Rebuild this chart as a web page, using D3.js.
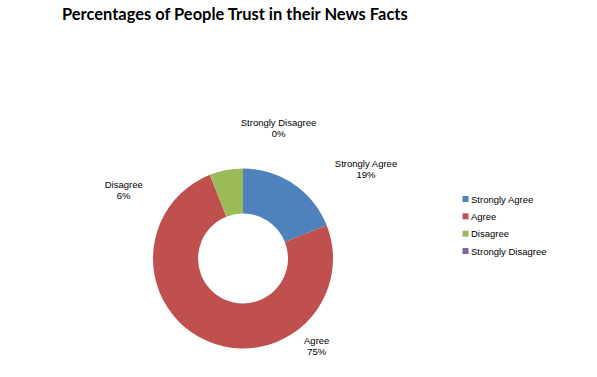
<!DOCTYPE html>
<html><head><meta charset="utf-8">
<script src="https://cdn.jsdelivr.net/npm/d3@7"></script>
<style>body{margin:0;background:#fff}svg{display:block}</style>
</head><body>
<script>
const categories = ["Strongly Agree", "Agree", "Disagree", "Strongly Disagree"];
const values = [19, 75, 6, 0];
const colors = ["#4F81BD", "#C0504D", "#9BBB59", "#8064A2"];
const title = "Percentages of People Trust in their News Facts";

const W = 597, H = 377;
const svg = d3.select("body").append("svg").attr("width", W).attr("height", H);
svg.append("rect").attr("width", W).attr("height", H).attr("fill", "#fff");

const t = svg.append("text").attr("x", 62).attr("y", 20)
  .attr("font-family", "Lato, sans-serif").attr("font-weight", "bold")
  .attr("font-size", 16).attr("fill", "#000").text(title);
const tw = t.node().getComputedTextLength();
t.attr("font-size", 16 * 346 / tw);

const cx = 243, cy = 258.5, R = 90, r = 45;
const data = categories.map((c, i) => ({ cat: c, v: values[i], color: colors[i] }));
const pie = d3.pie().value(d => d.v).sort(null);
const arcs = pie(data);
const arc = d3.arc().innerRadius(r).outerRadius(R);
const g = svg.append("g").attr("transform", `translate(${cx},${cy})`);
g.selectAll("path").data(arcs).join("path")
  .attr("d", arc).attr("fill", d => d.data.color);

const total = d3.sum(values);
const labelPos = [[123, -91.5], [73.7, 85.5], [-119.3, -70.5], [35.5, -132.3]];
const font = "Liberation Sans, Arial, sans-serif";
const lab = g.selectAll("g.lab").data(arcs).join("g").attr("class", "lab")
  .attr("transform", (d, i) => `translate(${labelPos[i][0]},${labelPos[i][1]})`);
lab.append("text").attr("text-anchor", "middle").attr("y", 0)
  .attr("font-family", font).attr("font-size", 9.5)
  .attr("fill", "#000").text(d => d.data.cat);
lab.append("text").attr("text-anchor", "middle").attr("y", 11.3)
  .attr("font-family", font).attr("font-size", 9.5)
  .attr("fill", "#000").text(d => Math.round(d.data.v / total * 100) + "%");

const lg = svg.append("g").attr("transform", "translate(462.5,199)");
const y = d3.scalePoint().domain(categories).range([0, 52]);
const items = lg.selectAll("g").data(data).join("g")
  .attr("transform", d => `translate(0,${y(d.cat)})`);
items.append("rect").attr("x", 0).attr("y", -3).attr("width", 6).attr("height", 6)
  .attr("fill", d => d.color);
items.append("text").attr("x", 8.5).attr("y", 3.5)
  .attr("font-family", font).attr("font-size", 9.5)
  .attr("fill", "#000").text(d => d.cat);
</script>
</body></html>
